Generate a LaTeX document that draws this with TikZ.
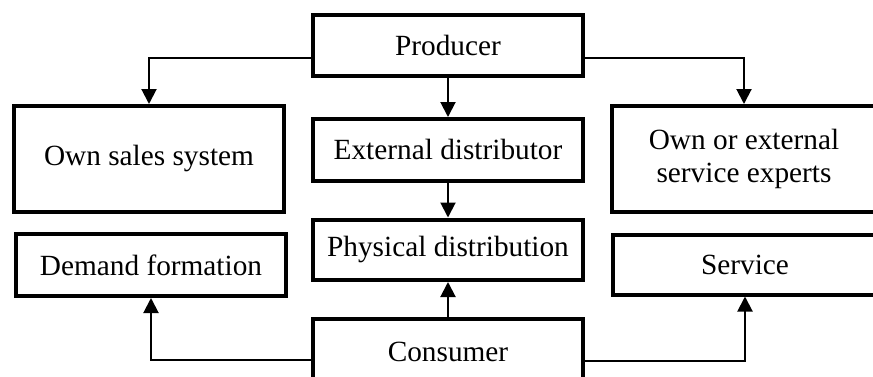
\documentclass[tikz,border=0pt]{standalone}
\usepackage{fontspec}
\setmainfont{Liberation Serif}
\usetikzlibrary{arrows.meta}
\begin{document}
\begin{tikzpicture}[x=1pt,y=-1pt,
  box/.style={draw=black, line width=4pt, rectangle, inner sep=0pt,
    minimum width=270pt, align=center,
    font=\fontsize{29.3}{32.5}\selectfont},
  conn/.style={draw=black, line width=2pt,
    -{Triangle[length=15pt,width=15pt]}}]
\useasboundingbox (0,0) rectangle (873,376);
\clip (0,0) rectangle (873,376);

% boxes
\node[box, minimum height=61pt]   (prod)    at (448,45.5)   {Producer};
\node[box, minimum height=105.5pt](own)     at (149,158.75) {Own sales system};
\node[box, minimum height=61.5pt] (ext)     at (448,149.75) {External distributor};
\node[box, minimum height=106pt, minimum width=264pt]
                                  (experts) at (744,159)    {Own or external\\service experts};
\node[box, minimum height=62pt]   (demand)  at (151,265)    {Demand formation};
\node[box, minimum height=60.5pt] (phys)    at (448,249.75) {Physical distribution};
\node[box, minimum height=60pt, minimum width=264pt]
                                  (service) at (745,264.5)  {Service};
\node[box, minimum height=65pt]   (cons)    at (448,351.5)  {Consumer};

% connectors from the producer
\draw[conn] ([yshift=-12.5pt]prod.west) -| (own.north);
\draw[conn] ([yshift=-12.5pt]prod.east) -| (experts.north);
\draw[conn] (prod.south) -- (ext.north);
\draw[conn] (ext.south) -- (phys.north);

% connectors from the consumer
\draw[conn] (cons.north) -- (phys.south);
\draw[conn] ([yshift=-8.5pt]cons.west) -| (demand.south);
\draw[conn] ([yshift=-9.5pt]cons.east) -| (service.south);
\end{tikzpicture}
\end{document}
